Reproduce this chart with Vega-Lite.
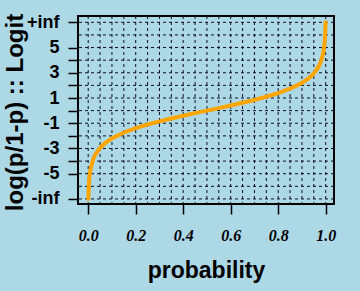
{
  "$schema": "https://vega.github.io/schema/vega-lite/v6.json",
  "autosize": {"type": "none"},
  "padding": {"left": 78, "top": 16, "right": 26, "bottom": 87},
  "width": 256,
  "height": 188,
  "background": "#ADD8E6",
  "config": {
    "view": {"stroke": "black", "strokeWidth": 2, "fill": "#ADD8E6"},
    "axisX": {
      "domain": false, "grid": false,
      "tickSize": 10, "tickColor": "black", "tickWidth": 1.5,
      "labelFont": "Liberation Serif", "labelFontStyle": "italic", "labelFontWeight": "bold",
      "labelFontSize": 16, "labelColor": "black", "labelPadding": 13,
      "titleFont": "Liberation Sans", "titleFontWeight": "bold", "titleFontSize": 23, "titleColor": "black",
      "titleBaseline": "alphabetic", "titleY": 73.5
    },
    "axisY": {
      "domain": false, "grid": false,
      "tickSize": 10, "tickColor": "black", "tickWidth": 1.5,
      "labelFont": "Liberation Sans", "labelFontWeight": "bold",
      "labelFontSize": 18, "labelColor": "black", "labelPadding": 9,
      "titleFont": "Liberation Sans", "titleFontWeight": "bold", "titleFontSize": 24, "titleColor": "black",
      "titleBaseline": "alphabetic", "titleX": -56, "titleY": 96
    }
  },
  "datasets": {
    "gridx": [
      {"p": 0.0}, {"p": 0.05}, {"p": 0.1}, {"p": 0.15}, {"p": 0.2}, {"p": 0.25}, {"p": 0.3},
      {"p": 0.35}, {"p": 0.4}, {"p": 0.45}, {"p": 0.5}, {"p": 0.55}, {"p": 0.6}, {"p": 0.65},
      {"p": 0.7}, {"p": 0.75}, {"p": 0.8}, {"p": 0.85}, {"p": 0.9}, {"p": 0.95}, {"p": 1.0}
    ],
    "gridy": [
      {"logit": -7}, {"logit": -6}, {"logit": -5}, {"logit": -4}, {"logit": -3}, {"logit": -2}, {"logit": -1}, {"logit": 0},
      {"logit": 1}, {"logit": 2}, {"logit": 3}, {"logit": 4}, {"logit": 5}, {"logit": 6}, {"logit": 7}
    ],
    "curve": [
      {"p": 0.0, "logit": -7},
      {"p": 0.001, "logit": -6.9068},
      {"p": 0.002, "logit": -6.2126},
      {"p": 0.005, "logit": -5.2933},
      {"p": 0.01, "logit": -4.5951},
      {"p": 0.02, "logit": -3.8918},
      {"p": 0.03, "logit": -3.4761},
      {"p": 0.05, "logit": -2.9444},
      {"p": 0.075, "logit": -2.5123},
      {"p": 0.1, "logit": -2.1972},
      {"p": 0.15, "logit": -1.7346},
      {"p": 0.2, "logit": -1.3863},
      {"p": 0.25, "logit": -1.0986},
      {"p": 0.3, "logit": -0.8473},
      {"p": 0.35, "logit": -0.619},
      {"p": 0.4, "logit": -0.4055},
      {"p": 0.45, "logit": -0.2007},
      {"p": 0.5, "logit": 0},
      {"p": 0.55, "logit": 0.2007},
      {"p": 0.6, "logit": 0.4055},
      {"p": 0.65, "logit": 0.619},
      {"p": 0.7, "logit": 0.8473},
      {"p": 0.75, "logit": 1.0986},
      {"p": 0.8, "logit": 1.3863},
      {"p": 0.85, "logit": 1.7346},
      {"p": 0.9, "logit": 2.1972},
      {"p": 0.925, "logit": 2.5123},
      {"p": 0.95, "logit": 2.9444},
      {"p": 0.97, "logit": 3.4761},
      {"p": 0.98, "logit": 3.8918},
      {"p": 0.99, "logit": 4.5951},
      {"p": 0.995, "logit": 5.2933},
      {"p": 0.998, "logit": 6.2126},
      {"p": 0.999, "logit": 6.9068},
      {"p": 1.0, "logit": 7}
    ]
  },
  "layer": [
    {
      "data": {"name": "gridx"},
      "mark": {"type": "rule", "color": "#101020", "strokeWidth": 1, "strokeDash": [3, 3]},
      "encoding": {
        "x": {"field": "p", "type": "quantitative", "scale": {"domain": [-0.043, 1.035], "nice": false, "zero": false},
          "axis": {"title": "probability", "values": [0, 0.2, 0.4, 0.6, 0.8, 1.0], "format": ".1f"}}
      }
    },
    {
      "data": {"name": "gridy"},
      "mark": {"type": "rule", "color": "#101020", "strokeWidth": 1, "strokeDash": [3, 3]},
      "encoding": {
        "y": {"field": "logit", "type": "quantitative", "scale": {"domain": [-7.4, 7.5], "nice": false, "zero": false},
          "axis": {"title": "log(p/1-p) :: Logit", "values": [-7, -5, -4, -3, -2, -1, 0, 1, 2, 3, 4, 5, 7],
            "labelExpr": "datum.value == 7 ? '+inf' : datum.value == -7 ? '-inf' : (datum.value % 2 != 0 ? '' + datum.value : '')"}}
      }
    },
    {
      "data": {"name": "curve"},
      "mark": {"type": "line", "color": "#FFA500", "strokeWidth": 4, "strokeCap": "round", "strokeJoin": "round"},
      "encoding": {
        "x": {"field": "p", "type": "quantitative", "scale": {"domain": [-0.043, 1.035], "nice": false, "zero": false},
          "axis": {"title": "probability", "values": [0, 0.2, 0.4, 0.6, 0.8, 1.0], "format": ".1f"}},
        "y": {"field": "logit", "type": "quantitative", "scale": {"domain": [-7.4, 7.5], "nice": false, "zero": false},
          "axis": {"title": "log(p/1-p) :: Logit", "values": [-7, -5, -4, -3, -2, -1, 0, 1, 2, 3, 4, 5, 7],
            "labelExpr": "datum.value == 7 ? '+inf' : datum.value == -7 ? '-inf' : (datum.value % 2 != 0 ? '' + datum.value : '')"}}
      }
    }
  ]
}
